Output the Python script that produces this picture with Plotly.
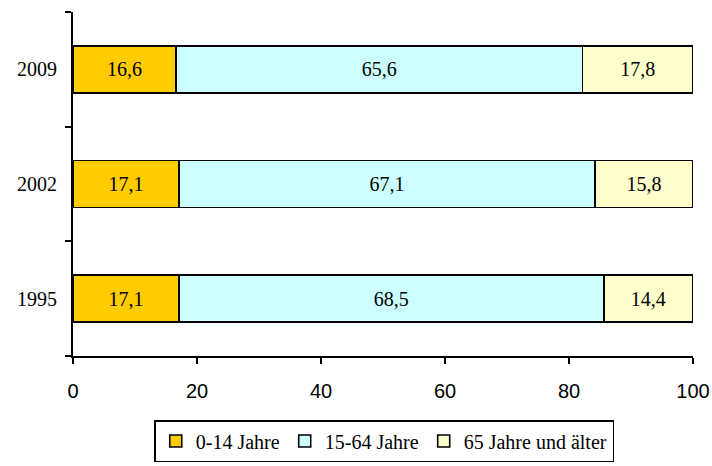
import plotly.graph_objects as go

years = ["1995", "2002", "2009"]
age_0_14 = [17.1, 17.1, 16.6]
age_15_64 = [68.5, 67.1, 65.6]
age_65_plus = [14.4, 15.8, 17.8]
series_names = ["0-14 Jahre", "15-64 Jahre", "65 Jahre und älter"]
colors = ["#FFCC00", "#CCFFFF", "#FFFFCC"]
x_ticks = [0, 20, 40, 60, 80, 100]

serif = "Liberation Serif, Times New Roman, serif"
sans = "Liberation Sans, Arial, sans-serif"

fig = go.Figure()
for name, vals, col in zip(series_names, [age_0_14, age_15_64, age_65_plus], colors):
    fig.add_trace(go.Bar(
        x=vals, y=years, orientation="h", name=name,
        marker=dict(color=col, line=dict(color="black", width=1.6)),
        texttemplate="%{x:.1f}", textposition="inside", insidetextanchor="middle",
        textfont=dict(family=serif, size=20, color="black"),
        constraintext="none", width=0.41,
    ))

fig.update_layout(
    barmode="stack",
    separators=",.",
    width=712, height=466,
    margin=dict(l=73, r=19, t=12, b=110, autoexpand=False),
    plot_bgcolor="white", paper_bgcolor="white",
    showlegend=True,
    legend=dict(
        orientation="h", xref="paper", x=0.502, xanchor="center",
        yref="container", y=4 / 466, yanchor="bottom",
        font=dict(family=serif, size=20, color="black"),
        bordercolor="black", borderwidth=1.5, bgcolor="white",
        traceorder="normal", tracegroupgap=0,
    ),
    uniformtext=dict(mode=False),
)
fig.update_xaxes(
    range=[0, 100], tickvals=x_ticks, ticks="outside", ticklen=6, tickwidth=2,
    tickcolor="black", showline=True, linecolor="black", linewidth=2,
    showgrid=False, zeroline=False, ticklabelstandoff=10,
    tickfont=dict(family=sans, size=20, color="black"),
)
fig.update_yaxes(
    type="category", categoryorder="array", categoryarray=years,
    range=[-0.5, 2.5], tickson="boundaries", ticks="outside", ticklen=6,
    tickwidth=2, tickcolor="black", showline=True, linecolor="black",
    linewidth=2, showgrid=False, zeroline=False, ticklabelstandoff=10,
    tickfont=dict(family=serif, size=20, color="black"),
)

fig.write_html("out.html")
